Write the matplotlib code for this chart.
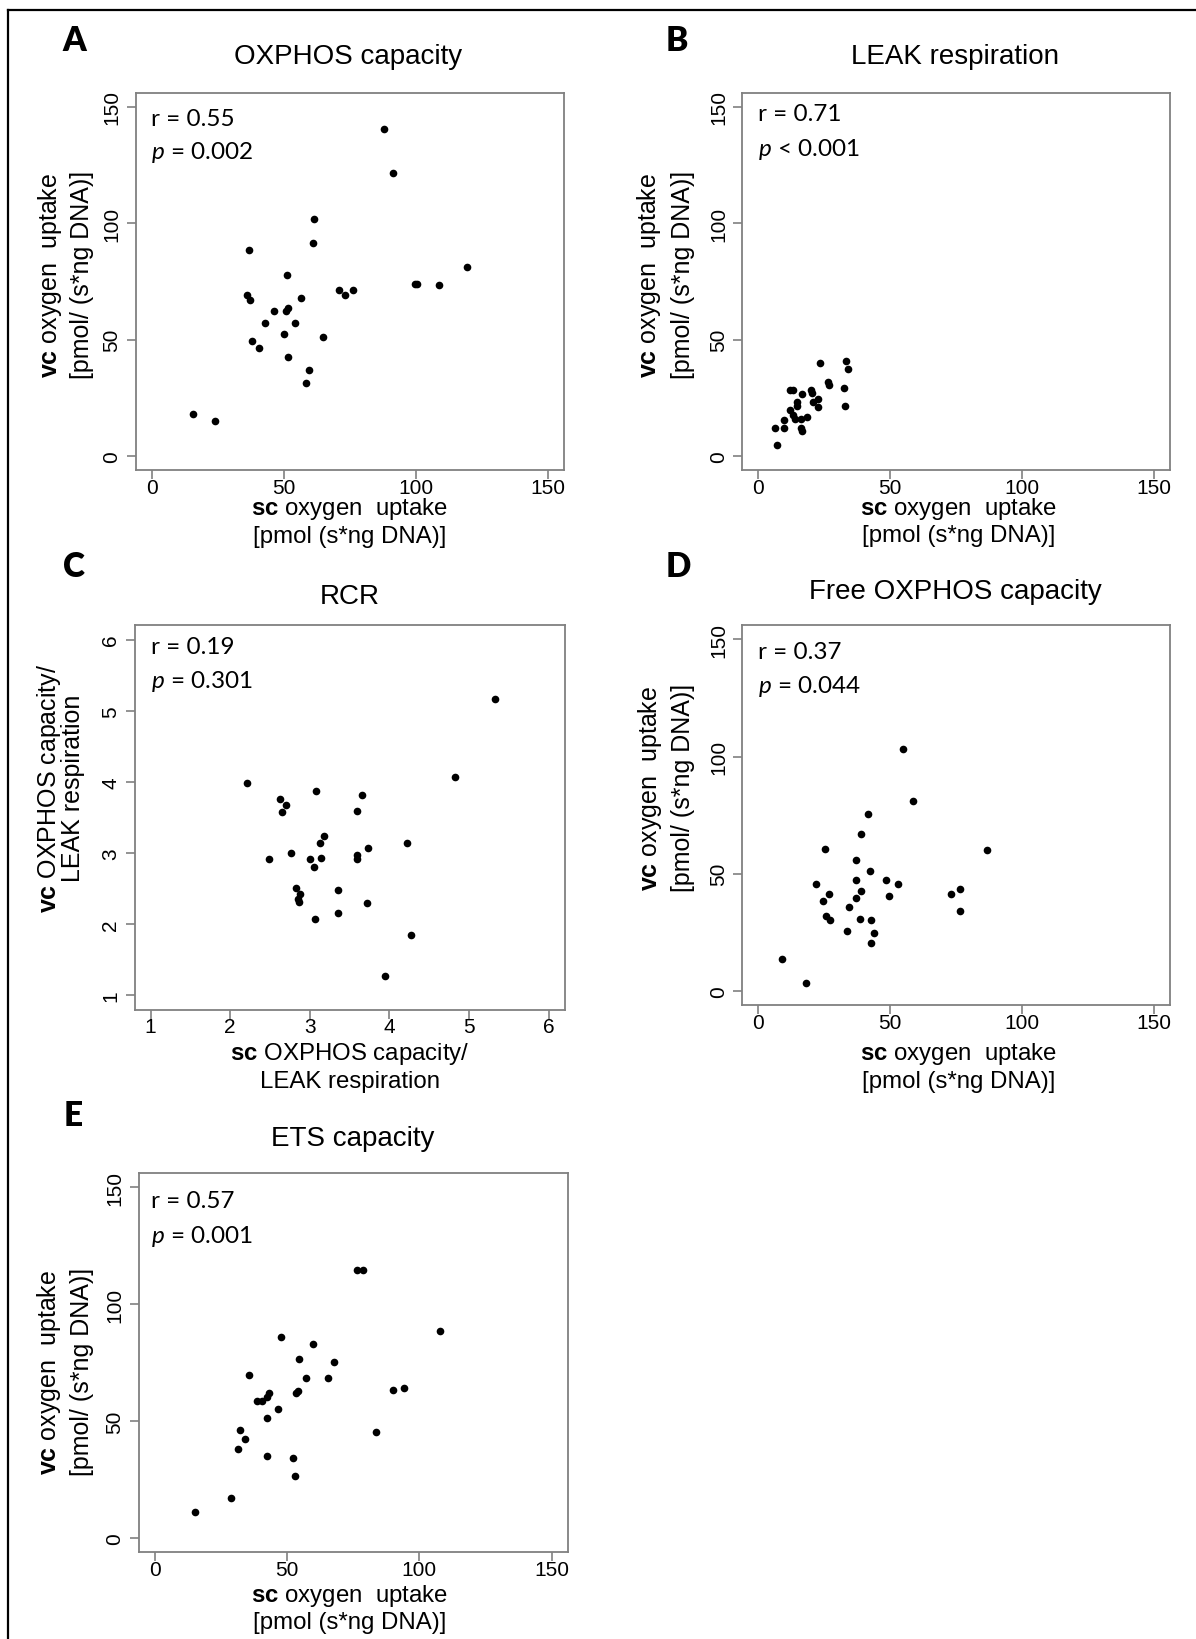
import matplotlib
matplotlib.use("Agg")
import matplotlib.pyplot as plt
from matplotlib.lines import Line2D

plt.rcParams["font.family"] = "Liberation Sans"
plt.rcParams["mathtext.fontset"] = "custom"
plt.rcParams["mathtext.rm"] = "Liberation Sans"
plt.rcParams["mathtext.bf"] = "Liberation Sans:bold"
plt.rcParams["mathtext.it"] = "Lato:italic"

# --- data: subcutaneous (sc) vs visceral (vc) measurements ---
oxphos_sc = [15.6, 23.8, 88.0, 91.3, 61.4, 61.0, 36.6, 51.0, 119.2, 99.5, 100.3, 108.5,
             70.7, 73.1, 76.0, 36.1, 37.3, 56.4, 46.1, 50.7, 51.7, 42.9, 54.2, 49.9,
             64.9, 37.9, 40.6, 51.7, 59.4, 58.5]
oxphos_vc = [18.3, 15.3, 140.5, 121.6, 101.7, 91.5, 88.6, 77.7, 81.4, 73.9, 74.1, 73.3,
             71.5, 69.2, 71.3, 69.2, 66.9, 68.0, 62.3, 62.2, 63.5, 57.4, 57.0, 52.4,
             51.3, 49.6, 46.3, 42.5, 37.0, 31.3]

leak_sc = [6.2, 7.2, 9.7, 9.7, 12.1, 13.3, 12.1, 13.2, 14.0, 14.5, 14.7, 16.4, 16.0, 16.0,
           16.5, 18.5, 19.8, 20.3, 20.7, 22.8, 22.8, 23.5, 26.5, 26.7, 32.4, 33.0, 33.4, 34.0]
leak_vc = [12.1, 4.9, 12.1, 15.6, 28.4, 28.4, 19.8, 17.6, 16.2, 23.3, 21.6, 26.6, 16.2, 12.1,
           10.9, 17.0, 28.3, 27.0, 23.3, 24.8, 21.3, 40.2, 32.0, 30.8, 29.5, 21.7, 40.9, 37.4]

rcr_sc = [2.21, 2.62, 2.70, 2.65, 2.49, 2.76, 2.83, 2.88, 2.85, 2.86, 3.00, 3.05, 3.08,
          3.13, 3.18, 3.14, 3.07, 3.36, 3.36, 3.59, 3.66, 3.59, 3.59, 3.73, 3.72, 4.22,
          4.27, 3.95, 4.83, 5.33]
rcr_vc = [3.98, 3.76, 3.67, 3.58, 2.92, 3.00, 2.51, 2.43, 2.36, 2.32, 2.92, 2.80, 3.87,
          3.14, 3.24, 2.93, 2.07, 2.48, 2.16, 3.59, 3.81, 2.97, 2.92, 3.07, 2.30, 3.14,
          1.85, 1.27, 4.07, 5.17]

free_sc = [8.9, 18.1, 22.0, 24.4, 25.4, 25.7, 26.8, 27.3, 33.7, 34.3, 37.0, 37.0, 37.0,
           38.5, 38.8, 39.0, 41.6, 42.3, 42.6, 42.6, 43.8, 48.5, 49.7, 53.1, 54.7, 58.7,
           73.1, 76.6, 76.6, 86.8]
free_vc = [13.6, 3.4, 45.5, 38.3, 60.5, 32.1, 41.5, 30.4, 25.7, 36.0, 47.2, 55.9, 39.7,
           30.5, 66.9, 42.5, 75.5, 51.2, 30.1, 20.6, 24.9, 47.2, 40.5, 45.7, 103.1, 81.1,
           41.5, 43.7, 34.2, 60.3]

ets_sc = [15.0, 28.6, 31.5, 32.3, 34.1, 35.4, 38.5, 40.6, 42.4, 43.2, 42.4, 42.4, 46.5,
          47.6, 52.1, 53.1, 53.4, 54.3, 54.6, 57.2, 59.8, 65.3, 67.7, 76.4, 78.8, 83.7,
          90.2, 94.3, 107.7]
ets_vc = [11.2, 17.2, 37.9, 46.2, 42.4, 69.7, 58.6, 58.6, 60.1, 61.8, 51.1, 34.9, 55.2,
          85.8, 34.3, 26.4, 61.9, 62.8, 76.5, 68.2, 82.8, 68.5, 75.4, 114.7, 114.4, 45.4,
          63.3, 64.0, 88.3]

panel_letters = ["A", "B", "C", "D", "E"]
panel_titles = ["OXPHOS capacity", "LEAK respiration", "RCR",
                "Free OXPHOS capacity", "ETS capacity"]
r_labels = ["r = 0.55", "r = 0.71", "r = 0.19", "r = 0.37", "r = 0.57"]
p_labels = ["= 0.002", "< 0.001", "= 0.301", "= 0.044", "= 0.001"]

uptake_ticks = [0, 50, 100, 150]
rcr_ticks = [1, 2, 3, 4, 5, 6]

uptake_y = (r"$\mathbf{vc}$ oxygen  uptake", "[pmol/ (s*ng DNA)]")
uptake_x = (r"$\mathbf{sc}$ oxygen  uptake", "[pmol (s*ng DNA)]")
rcr_y = (r"$\mathbf{vc}$ OXPHOS capacity/", "LEAK respiration")
rcr_x = (r"$\mathbf{sc}$ OXPHOS capacity/", "LEAK respiration")

W, H = 1196, 1640
fig = plt.figure(figsize=(W / 100, H / 100), dpi=100)
fig.patch.set_facecolor("white")


def px_axes(left, top, right, bottom):
    return fig.add_axes([left / W, 1 - bottom / H, (right - left) / W, (bottom - top) / H])


def ftext(x, y, s, **kw):
    return fig.text(x / W, 1 - y / H, s, **kw)


box_grey = "#808080"

# layout of each panel in pixels: axes box, letter, title, labels, stats
panels = [
    dict(x=oxphos_sc, y=oxphos_vc, box=(136, 93.6, 564, 471.4), letter=(74.6, 41),
         title=(348, 57), ylab=(50, 81.5, 275), xlab=(350, 509, 537), stats=(150.7, 109, 140),
         ticks=uptake_ticks, lim=(-6, 156), ylines=uptake_y, xlines=uptake_x),
    dict(x=leak_sc, y=leak_vc, box=(742.5, 93.6, 1170, 471.4), letter=(677, 41),
         title=(955.4, 57), ylab=(649.4, 682.9, 275), xlab=(959, 509, 536), stats=(757.7, 104, 137),
         ticks=uptake_ticks, lim=(-6, 156), ylines=uptake_y, xlines=uptake_x),
    dict(x=rcr_sc, y=rcr_vc, box=(134.7, 626.4, 564.5, 1010.7), letter=(73.5, 566.8),
         title=(349.4, 597), ylab=(49, 72.7, 788), xlab=(350, 1054, 1082), stats=(151, 637, 669),
         ticks=rcr_ticks, lim=(0.8, 6.2), ylines=rcr_y, xlines=rcr_x),
    dict(x=free_sc, y=free_vc, box=(742.5, 626.4, 1170, 1006), letter=(678.7, 566.8),
         title=(955.4, 591.8), ylab=(650.5, 682.9, 788), xlab=(959, 1054, 1082), stats=(757.7, 642, 674),
         ticks=uptake_ticks, lim=(-6, 156), ylines=uptake_y, xlines=uptake_x),
    dict(x=ets_sc, y=ets_vc, box=(139, 1174, 567.5, 1553), letter=(72.7, 1116.3),
         title=(352.8, 1139), ylab=(49, 81.5, 1372), xlab=(350, 1596, 1623), stats=(151, 1191, 1224),
         ticks=uptake_ticks, lim=(-6, 156), ylines=uptake_y, xlines=uptake_x),
]

for i, pnl in enumerate(panels):
    ax = px_axes(*pnl["box"])
    ax.plot(pnl["x"], pnl["y"], "o", color="black", markersize=5.5, markeredgewidth=0)
    ax.set_xlim(*pnl["lim"])
    ax.set_ylim(*pnl["lim"])
    ax.set_xticks(pnl["ticks"])
    ax.set_yticks(pnl["ticks"])
    for sp in ax.spines.values():
        sp.set_color(box_grey)
        sp.set_linewidth(1.3)
    ax.tick_params(direction="out", length=6.5, width=1.2, color=box_grey,
                   labelsize=15, labelcolor="black")
    ax.tick_params(axis="x", pad=-1)
    ax.tick_params(axis="y", pad=4)
    for lab in ax.get_yticklabels():
        lab.set_rotation(90)
        lab.set_va("center")

    # panel letter and title
    ftext(*pnl["letter"], panel_letters[i], family="Lato", fontweight="heavy",
          fontsize=24, ha="center", va="center")
    ftext(*pnl["title"], panel_titles[i], fontsize=20, ha="center", va="center")

    # two-line axis labels
    yl1, yl2, yc = pnl["ylab"]
    ftext(yl1, yc, pnl["ylines"][0], fontsize=18, rotation=90, ha="center", va="center")
    ftext(yl2, yc, pnl["ylines"][1], fontsize=18, rotation=90, ha="center", va="center")
    xc, xl1, xl2 = pnl["xlab"]
    ftext(xc, xl1, pnl["xlines"][0], fontsize=17.3, ha="center", va="center")
    ftext(xc, xl2, pnl["xlines"][1], fontsize=17.3, ha="center", va="center")

    # correlation statistics
    sx, sy1, sy2 = pnl["stats"]
    ftext(sx, sy1, r_labels[i], family="Lato", fontsize=17.5, ha="left", va="top")
    ftext(sx, sy2, r"$\mathit{p}$ " + p_labels[i], family="Lato", fontsize=17.5,
          ha="left", va="top")

# outer frame (top and left edges)
fig.add_artist(Line2D([8.4 / W, 1.0], [1 - 11.4 / H] * 2, color="black", lw=1.6,
                      transform=fig.transFigure))
fig.add_artist(Line2D([8.4 / W] * 2, [0.0, 1 - 11.4 / H], color="black", lw=1.6,
                      transform=fig.transFigure))

fig.savefig("out.png", dpi=100, facecolor="white")
